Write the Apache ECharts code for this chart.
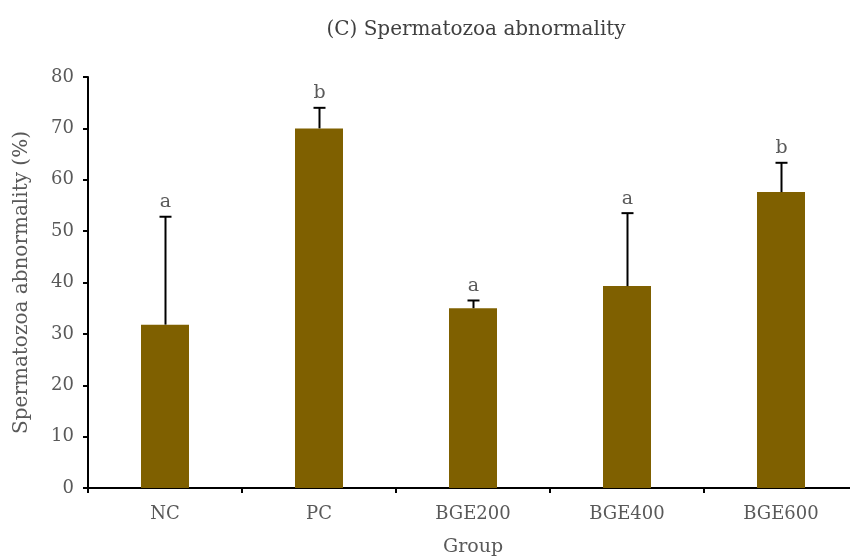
<!DOCTYPE html>
<html>
<head>
    <meta charset="utf-8">
    <title>Spermatozoa abnormality</title>
    <script src="https://cdn.jsdelivr.net/npm/echarts@6/dist/echarts.min.js"></script>
    <style>
        html, body { margin: 0; padding: 0; background: #fff; }
        #main { width: 850px; height: 556px; }
    </style>
</head>
<body>
    <div id="main"></div>
    <script>
        var groups = ['NC', 'PC', 'BGE200', 'BGE400', 'BGE600'];
        var means = [31.8, 70.0, 35.0, 39.3, 57.6];
        var errTops = [52.8, 74.0, 36.5, 53.5, 63.3];
        var letters = ['a', 'b', 'a', 'a', 'b'];

        var font = 'DejaVu Serif';
        var grey = '#595959';

        var errData = [];
        for (var i = 0; i < groups.length; i++) {
            errData.push([i, means[i], errTops[i], letters[i]]);
        }

        var myChart = echarts.init(document.getElementById('main'));

        var option = {
            animation: false,
            title: {
                text: '(C) Spermatozoa abnormality',
                left: 471,
                textAlign: 'center',
                top: 15,
                textStyle: { fontFamily: font, fontSize: 20, fontWeight: 'normal', color: '#404040' }
            },
            grid: { left: 88, width: 770, top: 77, bottom: 68, containLabel: false, outerBoundsMode: 'none' },
            xAxis: {
                type: 'category',
                data: groups,
                name: 'Group',
                nameLocation: 'middle',
                nameGap: 50,
                nameTextStyle: { fontFamily: font, fontSize: 19, color: grey },
                axisLine: { lineStyle: { color: '#000', width: 2 } },
                axisTick: { show: true, length: 5, lineStyle: { color: '#000', width: 2 } },
                axisLabel: { fontFamily: font, fontSize: 18, color: grey, margin: 17 }
            },
            yAxis: {
                type: 'value',
                min: 0,
                max: 80,
                interval: 10,
                name: 'Spermatozoa abnormality (%)',
                nameLocation: 'middle',
                nameGap: 56,
                nameTextStyle: { fontFamily: font, fontSize: 20, color: grey },
                axisLine: { show: true, lineStyle: { color: '#000', width: 2 } },
                axisTick: { show: true, length: 5, lineStyle: { color: '#000', width: 2 } },
                axisLabel: { fontFamily: font, fontSize: 18, color: grey, margin: 14 },
                splitLine: { show: false }
            },
            series: [
                {
                    type: 'bar',
                    data: means,
                    barWidth: 48,
                    itemStyle: { color: '#7f6000' }
                },
                {
                    type: 'custom',
                    data: errData,
                    z: 5,
                    renderItem: function (params, api) {
                        var base = api.coord([api.value(0), api.value(1)]);
                        var top = api.coord([api.value(0), api.value(2)]);
                        var x = Math.round(base[0]) + 0.5;
                        var cap = 6;
                        var style = { stroke: '#000', lineWidth: 2 };
                        return {
                            type: 'group',
                            children: [
                                { type: 'line', shape: { x1: x, y1: base[1], x2: x, y2: top[1] }, style: style },
                                { type: 'line', shape: { x1: x - cap, y1: top[1], x2: x + cap, y2: top[1] }, style: style },
                                {
                                    type: 'text',
                                    x: x,
                                    y: top[1] - 5,
                                    style: {
                                        text: api.value(3),
                                        textAlign: 'center',
                                        textVerticalAlign: 'bottom',
                                        fontFamily: font,
                                        fontSize: 19,
                                        fill: grey
                                    }
                                }
                            ]
                        };
                    }
                }
            ]
        };
        myChart.setOption(option);
    </script>
</body>
</html>
